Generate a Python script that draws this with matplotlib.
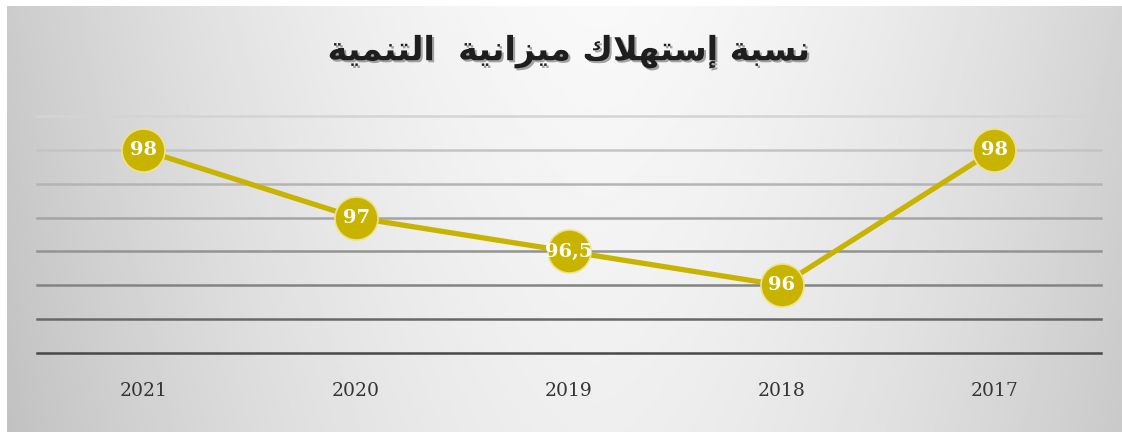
import numpy as np
import matplotlib
matplotlib.use("Agg")
import matplotlib.pyplot as plt
import matplotlib.patheffects as pe

# data
years = ["2021", "2020", "2019", "2018", "2017"]
values = [98, 97, 96.5, 96, 98]
value_labels = ["98", "97", "96,5", "96", "98"]
title = "نسبة إستهلاك ميزانية  التنمية"

# minimal arabic shaping (matplotlib has no bidi / joining support)
FORMS = {
    "ن": ("\uFEE5", "\uFEE6", "\uFEE7", "\uFEE8"),
    "س": ("\uFEB1", "\uFEB2", "\uFEB3", "\uFEB4"),
    "ب": ("\uFE8F", "\uFE90", "\uFE91", "\uFE92"),
    "ت": ("\uFE95", "\uFE96", "\uFE97", "\uFE98"),
    "ه": ("\uFEE9", "\uFEEA", "\uFEEB", "\uFEEC"),
    "ل": ("\uFEDD", "\uFEDE", "\uFEDF", "\uFEE0"),
    "ك": ("\uFED9", "\uFEDA", "\uFEDB", "\uFEDC"),
    "م": ("\uFEE1", "\uFEE2", "\uFEE3", "\uFEE4"),
    "ي": ("\uFEF1", "\uFEF2", "\uFEF3", "\uFEF4"),
    "ة": ("\uFE93", "\uFE94", None, None),
    "إ": ("\uFE87", "\uFE88", None, None),
    "ا": ("\uFE8D", "\uFE8E", None, None),
    "ز": ("\uFEAF", "\uFEB0", None, None),
    "\uFEFB": ("\uFEFB", "\uFEFC", None, None),
}


def shape(text):
    text = text.replace("لا", "\uFEFB")
    out = []
    for i, ch in enumerate(text):
        if ch not in FORMS:
            out.append(ch)
            continue
        iso, fin, ini, med = FORMS[ch]
        prev = text[i - 1] if i > 0 else ""
        nxt = text[i + 1] if i + 1 < len(text) else ""
        jp = prev in FORMS and FORMS[prev][2] is not None
        jn = nxt in FORMS and ini is not None
        if jp and jn:
            out.append(med)
        elif jp:
            out.append(fin)
        elif jn:
            out.append(ini)
        else:
            out.append(iso)
    return "".join(out)[::-1]


fig = plt.figure(figsize=(11.22, 4.32), dpi=100, facecolor="white")

# gradient background panel (white strip left / top as in the original)
bg = fig.add_axes([7 / 1122, 0, 1 - 7 / 1122, 1 - 6 / 432], zorder=-10)
yy, xx = np.mgrid[0:1:200j, 0:1:400j]
shade = 0.975 - 0.16 * (np.abs(xx - 0.53) / 0.5) ** 1.6 - 0.04 * yy
bg.imshow(shade, cmap="gray", vmin=0, vmax=1, aspect="auto",
          extent=[0, 1, 0, 1], origin="upper")
bg.set_xlim(0, 1)
bg.set_ylim(0, 1)
bg.axis("off")

ax = fig.add_axes([0.033, 0.183, 0.948, 0.548])
ax.patch.set_alpha(0)
x = np.arange(len(years))

grid_vals = np.arange(95, 98.51, 0.5)
grid_cols = ["#d4d4d4", "#c4c4c4", "#b4b4b4", "#a4a4a4", "#939393", "#838383", "#686868", "#484848"]
for gv, gc in zip(grid_vals, grid_cols[::-1]):
    ax.axhline(gv, color=gc, lw=1.8, zorder=1, clip_on=False)

gold = "#c8b400"
ax.plot(x, values, color=gold, lw=3.8, zorder=3, solid_capstyle="round",
        marker="o", markersize=31, markerfacecolor=gold,
        markeredgecolor="#efe38a", markeredgewidth=1.2)

for xi, v, lab in zip(x, values, value_labels):
    ax.text(xi, v, lab, ha="center", va="center", color="white", fontsize=14,
            fontweight="bold", family="DejaVu Serif", zorder=4)

ax.set_xlim(-0.5, 4.5)
ax.set_ylim(95, 98.5)
ax.set_xticks(x)
ax.set_xticklabels(years, family="DejaVu Serif", fontsize=13.5, color="#353535")
ax.set_yticks([])
ax.tick_params(axis="x", length=0, pad=21)
for s in ax.spines.values():
    s.set_visible(False)

fig.text(0.508, 0.88, shape(title), ha="center", va="center", fontsize=24,
         fontweight="bold", color="#1e1e1e", family="DejaVu Sans",
         path_effects=[pe.withSimplePatchShadow(offset=(1.5, -1.5), alpha=0.35)])

plt.savefig("out.png", dpi=100)
